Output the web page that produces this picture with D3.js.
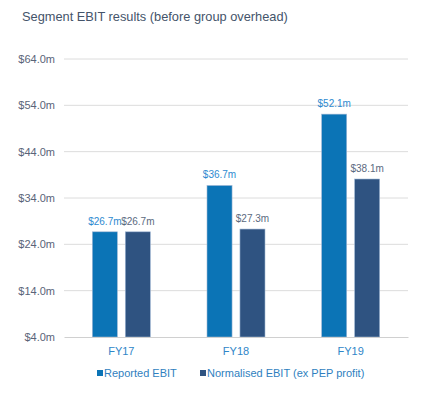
<!DOCTYPE html>
<html>
<head>
<meta charset="utf-8">
<script src="https://cdn.jsdelivr.net/npm/d3@7"></script>
<style>
  body { margin: 0; background: #fff; }
  svg { font-family: "Liberation Sans", Arial, sans-serif; }
</style>
</head>
<body>
<div id="chart"></div>
<script>
const categories = ['FY17', 'FY18', 'FY19'];
const seriesNames = ['Reported EBIT', 'Normalised EBIT (ex PEP profit)'];
const reported = [26.7, 36.7, 52.1];
const normalised = [26.7, 27.3, 38.1];
const yTicks = [4, 14, 24, 34, 44, 54, 64];

const width = 437, height = 396;
const margin = { top: 59, right: 29, bottom: 59, left: 64 };
const colors = ['#0b74b6', '#2f5381'];
const labelColors = ['#2e8ad0', '#5b6a80'];

const svg = d3.select('#chart').append('svg')
  .attr('width', width)
  .attr('height', height);

svg.append('text')
  .attr('x', 22)
  .attr('y', 21)
  .attr('fill', '#44546a')
  .style('font-size', '12.8px')
  .text('Segment EBIT results (before group overhead)');

const contentWidth = width - margin.left - margin.right;
const contentHeight = height - margin.top - margin.bottom;

const x0 = d3.scaleBand()
  .domain(categories)
  .range([0, contentWidth]);

const x1 = d3.scaleBand()
  .domain(d3.range(seriesNames.length))
  .range([0, 58])
  .paddingInner(0.24);

const y = d3.scaleLinear()
  .domain([4, 64])
  .range([contentHeight, 0]);

const g = svg.append('g')
  .attr('transform', 'translate(' + margin.left + ',' + margin.top + ')');

// grid
g.selectAll('.grid')
  .data(yTicks.slice(1))
  .enter().append('line')
  .attr('x1', 0).attr('x2', contentWidth)
  .attr('y1', d => y(d)).attr('y2', d => y(d))
  .attr('stroke', '#dcdcdc')
  .attr('stroke-width', 1);

// y axis labels
const yAxis = g.append('g')
  .call(d3.axisLeft(y).tickValues(yTicks).tickSize(0).tickPadding(9)
    .tickFormat(d => '$' + d3.format('.1f')(d) + 'm'));
yAxis.select('.domain').remove();
yAxis.selectAll('text')
  .attr('fill', '#5a6478')
  .style('font-size', '11px');

// bars
const data = categories.map((c, i) => ({ cat: c, vals: [reported[i], normalised[i]] }));

const groups = g.selectAll('.group')
  .data(data)
  .enter().append('g')
  .attr('transform', d => 'translate(' + (x0(d.cat) + x0.bandwidth() / 2 - 29) + ',0)');

groups.selectAll('rect')
  .data(d => d.vals.map((v, i) => ({ v, i })))
  .enter().append('rect')
  .attr('x', d => x1(d.i))
  .attr('y', d => y(d.v))
  .attr('width', x1.bandwidth())
  .attr('height', d => contentHeight - y(d.v))
  .attr('fill', d => colors[d.i])
  .attr('stroke', '#9fb7d4')
  .attr('stroke-width', 0.6);

groups.selectAll('.label')
  .data(d => d.vals.map((v, i) => ({ v, i })))
  .enter().append('text')
  .attr('x', d => x1(d.i) + x1.bandwidth() / 2)
  .attr('y', d => y(d.v) - 7)
  .attr('text-anchor', 'middle')
  .attr('fill', d => labelColors[d.i])
  .style('font-size', '10px')
  .text(d => '$' + d3.format('.1f')(d.v) + 'm');

// x axis
const xAxis = g.append('g')
  .attr('transform', 'translate(0,' + contentHeight + ')')
  .call(d3.axisBottom(x0).tickSize(0).tickPadding(10));
xAxis.select('.domain').attr('stroke', '#d0d0d0');
xAxis.selectAll('text')
  .attr('fill', '#2f86c8')
  .style('font-size', '11px');

// legend
const legendX = [97, 200];
const legend = svg.selectAll('.legend')
  .data(seriesNames)
  .enter().append('g')
  .attr('transform', (d, i) => 'translate(' + legendX[i] + ',373)');

legend.append('rect')
  .attr('x', 0).attr('y', -3)
  .attr('width', 6).attr('height', 6)
  .attr('fill', (d, i) => colors[i]);

legend.append('text')
  .attr('x', 7)
  .attr('y', 4)
  .attr('fill', '#2f7fc0')
  .style('font-size', '11px')
  .text(d => d);
</script>
</body>
</html>
